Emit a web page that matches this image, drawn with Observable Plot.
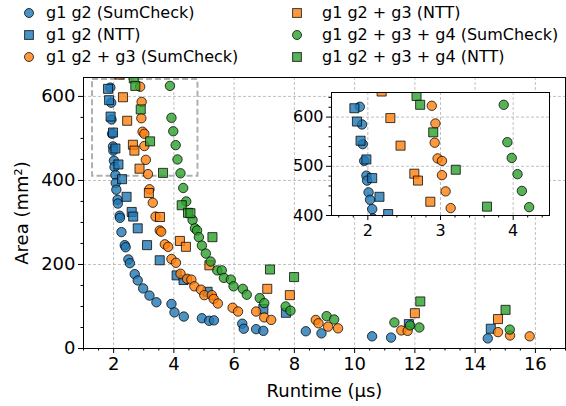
<!DOCTYPE html>
<html><head><meta charset="utf-8">
<script src="https://cdn.jsdelivr.net/npm/d3@7"></script>
<script src="https://cdn.jsdelivr.net/npm/@observablehq/plot@0.6"></script>
<style>
body{margin:0;background:#fff;font-family:"DejaVu Sans",sans-serif;}
#wrap{position:relative;width:566px;height:406px;overflow:hidden;background:#fff;}
#legend{position:relative;width:566px;height:70px;}
.item{position:absolute;font-size:16px;line-height:20px;white-space:nowrap;color:#000;display:flex;align-items:center;}
#inset{position:absolute;left:291px;top:87px;}
</style></head><body>
<div id="wrap"><div id="legend"></div><div id="main"></div><div id="inset"></div></div>
<script>
// ---- data: [runtime (µs), area (mm²)] ----
const g12_sumcheck = [[1.89,621],[1.92,585],[1.93,545],[1.95,511],[1.98,481],[1.99,471],[2.01,447],[2.03,432],[2.06,413],[2.07,394],[2.09,378],[2.13,354],[2.14,345],[2.20,316],[2.21,311],[2.26,277],[2.37,246],[2.40,241],[2.49,212],[2.54,203],[2.70,177],[2.80,162],[2.98,143],[3.19,126],[3.42,110],[3.92,106],[4.02,86],[4.33,76],[4.93,72],[5.17,66],[5.33,67],[6.27,59],[6.32,47],[6.73,46],[6.97,42],[8.38,41],[8.90,36],[10.58,29],[11.21,26],[14.42,24]];
const g12_ntt = [[1.815,618],[1.85,591],[1.90,552],[1.98,514],[2.06,476],[2.16,438],[2.28,403],[2.43,361],[2.60,325],[2.65,314],[2.80,286],[3.11,246],[3.53,210],[4.09,174],[4.32,163],[5.12,135],[6.97,94],[7.72,85],[11.80,58],[14.52,47]];
const g123_sumcheck = [[2.88,623],[2.93,587],[2.92,548],[2.96,516],[3.02,511],[3.02,482],[3.07,449],[3.14,415],[3.19,379],[3.30,347],[3.39,314],[3.53,281],[3.58,278],[3.70,248],[3.81,242],[3.92,213],[4.07,204],[4.22,178],[4.44,166],[4.58,164],[4.68,148],[4.90,140],[5.01,127],[5.26,127],[5.32,118],[5.46,107],[5.95,97],[6.13,88],[6.73,88],[7.00,74],[7.23,68],[8.71,68],[8.80,60],[9.12,52],[9.45,48],[11.55,43],[11.76,42],[14.76,39],[15.16,31],[15.81,29]];
const g123_ntt = [[2.19,652],[2.31,598],[2.45,542],[2.64,485],[2.69,471],[2.86,428],[3.17,370],[3.54,313],[4.20,256],[4.40,242],[5.18,198],[7.10,142],[7.85,127],[12.0,84],[14.76,70]];
const g1234_sumcheck = [[3.87,625],[3.92,549],[3.98,517],[4.06,484],[4.12,450],[4.22,417],[4.31,382],[4.41,350],[4.62,306],[4.70,286],[4.77,281],[4.83,265],[4.93,245],[5.06,226],[5.22,207],[5.44,186],[5.59,186],[5.66,168],[5.89,164],[5.98,148],[6.29,142],[6.42,128],[6.85,120],[7.00,108],[7.71,100],[7.87,90],[9.07,77],[9.32,69],[11.32,62],[11.84,55],[12.15,50],[15.15,45]];
const g1234_ntt = [[2.67,643],[2.72,625],[2.90,569],[3.21,493],[3.64,418],[4.26,341],[4.47,323],[4.55,322],[5.28,265],[7.19,188],[7.99,170],[12.18,112],[15.01,92]];

const seriesNames = ["g1 g2 (SumCheck)","g1 g2 (NTT)","g1 g2 + g3 (SumCheck)","g1 g2 + g3 (NTT)","g1 g2 + g3 + g4 (SumCheck)","g1 g2 + g3 + g4 (NTT)"];
const seriesData = [g12_sumcheck,g12_ntt,g123_sumcheck,g123_ntt,g1234_sumcheck,g1234_ntt];
const seriesColors = ["#1f77b4","#1f77b4","#ff7f0e","#ff7f0e","#2ca02c","#2ca02c"];
const seriesSymbols = ["circle","square","circle","square","circle","square"];

const mainXTicks = [2,4,6,8,10,12,14,16];
const mainYTicks = [0,200,400,600];
const mainXMinor = d3.range(1,17.01,0.5).filter(v=>v%2!==0);
const mainYMinor = d3.range(0,645,50).filter(v=>v%200!==0);
const insetXTicks = [2,3,4];
const insetYTicks = [400,500,600];
const insetXMinor = d3.range(1.6,4.5,0.2).map(v=>+v.toFixed(1)).filter(v=>Math.abs(v-Math.round(v))>1e-6);
const insetYMinor = d3.range(420,650,20).filter(v=>v%100!==0);
const zoomBoxX = [1.3,4.8];
const zoomBoxY = [410,640];

const rows = seriesData.flatMap((s,i)=>s.map(([x,y])=>({x,y,i})));
const gridStyle = {stroke:"#b0b0b0",strokeOpacity:1,strokeDasharray:"3,2",strokeWidth:0.8};

function dotMarks(filter){
  return seriesNames.map((n,i)=>Plot.dot(rows.filter(d=>d.i===i && filter(d)),{
    x:"x",y:"y",symbol:seriesSymbols[i],r:seriesSymbols[i]==="square"?5.1:4.7,
    fill:seriesColors[i],fillOpacity:0.8,stroke:"#000",strokeOpacity:0.75,strokeWidth:1,clip:true}));
}

// ---- legend ----
const leg = document.getElementById("legend");
const legPos = [[21,3,9],[21,25,9],[21,47,9],[289,3,17],[289,25,17],[289,47,17]];
seriesNames.forEach((n,i)=>{
  const el=document.createElement("div");
  el.className="item";
  el.style.left=legPos[i][0]+"px"; el.style.top=legPos[i][1]+"px";
  const shape = seriesSymbols[i]==="circle"
    ? `<circle cx="8" cy="10" r="4.5" fill="${seriesColors[i]}" fill-opacity="0.8" stroke="#000" stroke-opacity="0.75"/>`
    : `<rect x="3.6" y="5.6" width="8.8" height="8.8" fill="${seriesColors[i]}" fill-opacity="0.8" stroke="#000" stroke-opacity="0.75"/>`;
  el.innerHTML=`<svg width="16" height="20">${shape}</svg><span style="margin-left:${legPos[i][2]}px">${n}</span>`;
  leg.appendChild(el);
});

// ---- main plot ----
const main = Plot.plot({
  width:566,height:336,marginTop:7,marginBottom:58,marginLeft:83,marginRight:1,
  x:{domain:[1,17]},y:{domain:[0,645]},
  style:{fontFamily:"DejaVu Sans",fontSize:"18px",color:"#000",background:"transparent",overflow:"visible"},
  marks:[
    Plot.gridX(mainXTicks,gridStyle),
    Plot.gridY(mainYTicks.filter(v=>v>0),gridStyle),
    Plot.rect([{x1:zoomBoxX[0],x2:zoomBoxX[1],y1:zoomBoxY[0],y2:zoomBoxY[1]}],{x1:"x1",x2:"x2",y1:"y1",y2:"y2",fill:"none",stroke:"#b0b0b0",strokeWidth:2,strokeDasharray:"6,3"}),
    ...dotMarks(()=>true),
    Plot.frame({stroke:"#000",strokeWidth:1}),
    Plot.axisX(mainXTicks,{tickSize:5,tickPadding:4,fontSize:18,label:"Runtime (μs)",labelAnchor:"center",labelOffset:48,labelArrow:"none"}),
    Plot.axisX(mainXMinor,{tickSize:2.5,tickFormat:()=>"",label:null}),
    Plot.axisY(mainYTicks,{tickSize:5,tickPadding:3,fontSize:18,label:"Area (mm²)",labelAnchor:"center",labelOffset:68,labelArrow:"none"}),
    Plot.axisY(mainYMinor,{tickSize:2.5,tickFormat:()=>"",label:null})
  ]
});
document.getElementById("main").appendChild(main);

// ---- inset ----
const inset = Plot.plot({
  width:263,height:153,marginLeft:40,marginTop:5,marginRight:5,marginBottom:25,
  x:{domain:[1.5,4.5]},y:{domain:[400,650]},
  style:{fontFamily:"DejaVu Sans",fontSize:"16px",color:"#000",background:"transparent",overflow:"visible"},
  marks:[
    Plot.frame({fill:"#fff",stroke:null}),
    Plot.gridX(insetXTicks,gridStyle),
    Plot.gridY(insetYTicks,gridStyle),
    ...dotMarks(d=>d.x>=1.3&&d.x<=4.7&&d.y>=380&&d.y<=670),
    Plot.frame({stroke:"#000",strokeWidth:1}),
    Plot.axisX(insetXTicks,{tickSize:5,tickPadding:4,fontSize:16,label:null}),
    Plot.axisX(insetXMinor,{tickSize:2.5,tickFormat:()=>"",label:null}),
    Plot.axisY(insetYTicks,{tickSize:5,tickPadding:3,fontSize:16,label:null}),
    Plot.axisY(insetYMinor,{tickSize:2.5,tickFormat:()=>"",label:null})
  ]
});
document.getElementById("inset").appendChild(inset);
</script>
</body></html>
